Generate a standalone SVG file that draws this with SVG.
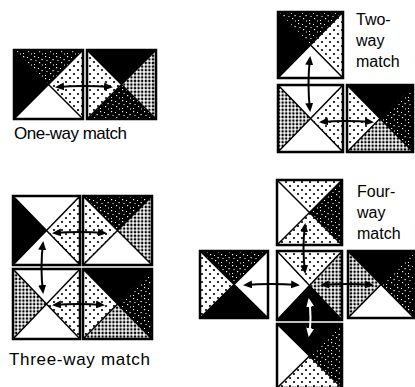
<svg xmlns="http://www.w3.org/2000/svg" width="415" height="387" viewBox="0 0 415 387">
<defs>
<pattern id="pLight" width="8" height="8" patternUnits="userSpaceOnUse"><rect width="8" height="8" fill="#fff"/><circle cx="2" cy="2" r="1.1" fill="#000"/><circle cx="6" cy="6" r="1.1" fill="#000"/></pattern>
<pattern id="pMed" width="3.6" height="3.6" patternUnits="userSpaceOnUse"><rect width="3.6" height="3.6" fill="#fff"/><circle cx="1.8" cy="1.8" r="1.3" fill="#000"/></pattern>
<pattern id="pDark" width="11" height="11" patternUnits="userSpaceOnUse"><rect width="11" height="11" fill="#000"/><rect x="1" y="1" width="1.2" height="1.2" fill="#fff"/><rect x="5" y="2" width="1" height="1" fill="#fff"/><rect x="8.5" y="4" width="1.2" height="1.2" fill="#fff"/><rect x="2.5" y="5" width="1" height="1" fill="#fff"/><rect x="6" y="7" width="1.2" height="1.2" fill="#fff"/><rect x="1" y="9" width="1" height="1" fill="#fff"/><rect x="9" y="9.5" width="1" height="1" fill="#fff"/></pattern>
<marker id="ah" viewBox="0 0 9 8" refX="7" refY="4" markerWidth="9" markerHeight="8" markerUnits="userSpaceOnUse" orient="auto-start-reverse"><path d="M0,0 L9,4 L0,8 z" fill="#000"/></marker>
<marker id="ahw" viewBox="0 0 9 8" refX="7" refY="4" markerWidth="9" markerHeight="8" markerUnits="userSpaceOnUse" orient="auto-start-reverse"><path d="M0,0 L9,4 L0,8 z" fill="#fff"/></marker>
</defs>
<style>
.w{fill:#fff}.k{fill:#000}.l{fill:url(#pLight)}.m{fill:url(#pMed)}.d{fill:url(#pDark)}
.b{fill:none;stroke:#000;stroke-width:2.5}
.g{fill:none;stroke:#000;stroke-width:1.5}
.a{fill:none;stroke:#000;stroke-width:2;marker-start:url(#ah);marker-end:url(#ah)}
.aw{fill:none;stroke:#fff;stroke-width:2;marker-start:url(#ahw);marker-end:url(#ahw)}
text{font-family:"Liberation Sans",Arial,Helvetica,sans-serif;font-size:16px;fill:#000}
.big{font-size:17px}
</style>
<rect width="415" height="387" fill="#fff"/>

<!-- One-way -->
<g id="A1"><polygon class="d" points="14,50 83,50 48.5,84.5"/><polygon class="l" points="83,50 83,119 48.5,84.5"/><polygon class="w" points="83,119 14,119 48.5,84.5"/><polygon class="k" points="14,119 14,50 48.5,84.5"/><path class="g" d="M14,50 L83,119 M83,50 L14,119"/><rect class="b" x="14" y="50" width="69" height="69"/></g>
<g id="A2"><polygon class="k" points="87,50 156,50 121.5,84.5"/><polygon class="m" points="156,50 156,119 121.5,84.5"/><polygon class="d" points="156,119 87,119 121.5,84.5"/><polygon class="l" points="87,119 87,50 121.5,84.5"/><path class="g" d="M87,50 L156,119 M156,50 L87,119"/><rect class="b" x="87" y="50" width="69" height="69"/></g>
<text id="lblOne" class="big" x="14" y="139" textLength="113" lengthAdjust="spacing">One-way match</text>

<!-- Two-way -->
<g id="B1"><polygon class="d" points="278,12 343,12 310.5,45"/><polygon class="l" points="343,12 343,78 310.5,45"/><polygon class="w" points="343,78 278,78 310.5,45"/><polygon class="k" points="278,78 278,12 310.5,45"/><path class="g" d="M278,12 L343,78 M343,12 L278,78"/><rect class="b" x="278" y="12" width="65" height="66"/></g>
<g id="B2"><polygon class="w" points="278,85 343,85 310.5,118.5"/><polygon class="l" points="343,85 343,152 310.5,118.5"/><polygon class="w" points="343,152 278,152 310.5,118.5"/><polygon class="m" points="278,152 278,85 310.5,118.5"/><path class="g" d="M278,85 L343,152 M343,85 L278,152"/><rect class="b" x="278" y="85" width="65" height="67"/></g>
<g id="B3"><polygon class="k" points="347,85 413,85 380,118.5"/><polygon class="d" points="413,85 413,152 380,118.5"/><polygon class="m" points="413,152 347,152 380,118.5"/><polygon class="l" points="347,152 347,85 380,118.5"/><path class="g" d="M347,85 L413,152 M413,85 L347,152"/><rect class="b" x="347" y="85" width="66" height="67"/></g>
<text id="lblTwo"><tspan x="356" y="25">Two-</tspan><tspan x="356" y="46">way</tspan><tspan x="356" y="67">match</tspan></text>

<!-- Three-way -->
<g id="C1"><polygon class="w" points="13,196 80,196 46.5,230.5"/><polygon class="l" points="80,196 80,265 46.5,230.5"/><polygon class="w" points="80,265 13,265 46.5,230.5"/><polygon class="k" points="13,265 13,196 46.5,230.5"/><path class="g" d="M13,196 L80,265 M80,196 L13,265"/><rect class="b" x="13" y="196" width="67" height="69"/></g>
<g id="C2"><polygon class="d" points="83,196 152,196 117.5,230.5"/><polygon class="m" points="152,196 152,265 117.5,230.5"/><polygon class="w" points="152,265 83,265 117.5,230.5"/><polygon class="l" points="83,265 83,196 117.5,230.5"/><path class="g" d="M83,196 L152,265 M152,196 L83,265"/><rect class="b" x="83" y="196" width="69" height="69"/></g>
<g id="C3"><polygon class="w" points="13,269 80,269 46.5,304"/><polygon class="l" points="80,269 80,339 46.5,304"/><polygon class="w" points="80,339 13,339 46.5,304"/><polygon class="m" points="13,339 13,269 46.5,304"/><path class="g" d="M13,269 L80,339 M80,269 L13,339"/><rect class="b" x="13" y="269" width="67" height="70"/></g>
<g id="C4"><polygon class="k" points="83,269 152,269 117.5,304"/><polygon class="d" points="152,269 152,339 117.5,304"/><polygon class="m" points="152,339 83,339 117.5,304"/><polygon class="l" points="83,339 83,269 117.5,304"/><path class="g" d="M83,269 L152,339 M152,269 L83,339"/><rect class="b" x="83" y="269" width="69" height="70"/></g>
<text id="lblThree" class="big" x="9" y="365" textLength="141" lengthAdjust="spacing">Three-way match</text>

<!-- Four-way -->
<g id="D1"><polygon class="l" points="277,180 342,180 309.5,212.5"/><polygon class="d" points="342,180 342,245 309.5,212.5"/><polygon class="l" points="342,245 277,245 309.5,212.5"/><polygon class="w" points="277,245 277,180 309.5,212.5"/><path class="g" d="M277,180 L342,245 M342,180 L277,245"/><rect class="b" x="277" y="180" width="65" height="65"/></g>
<g id="D2"><polygon class="d" points="200,251 268,251 234,284.5"/><polygon class="w" points="268,251 268,318 234,284.5"/><polygon class="k" points="268,318 200,318 234,284.5"/><polygon class="l" points="200,318 200,251 234,284.5"/><path class="g" d="M200,251 L268,318 M268,251 L200,318"/><rect class="b" x="200" y="251" width="68" height="67"/></g>
<g id="D3"><polygon class="l" points="277,251 342,251 309.5,285.5"/><polygon class="m" points="342,251 342,320 309.5,285.5"/><polygon class="k" points="342,320 277,320 309.5,285.5"/><polygon class="w" points="277,320 277,251 309.5,285.5"/><path class="g" d="M277,251 L342,320 M342,251 L277,320"/><rect class="b" x="277" y="251" width="65" height="69"/></g>
<g id="D4"><polygon class="k" points="348,251 414,251 381,284.5"/><polygon class="d" points="414,251 414,318 381,284.5"/><polygon class="w" points="414,318 348,318 381,284.5"/><polygon class="m" points="348,318 348,251 381,284.5"/><path class="g" d="M348,251 L414,318 M414,251 L348,318"/><rect class="b" x="348" y="251" width="66" height="67"/></g>
<g id="D5"><polygon class="k" points="277,324 342,324 309.5,356"/><polygon class="d" points="342,324 342,388 309.5,356"/><polygon class="l" points="342,388 277,388 309.5,356"/><polygon class="w" points="277,388 277,324 309.5,356"/><path class="g" d="M277,324 L342,388 M342,324 L277,388"/><rect class="b" x="277" y="324" width="65" height="64"/></g>
<text id="lblFour"><tspan x="357" y="197">Four-</tspan><tspan x="357" y="218">way</tspan><tspan x="357" y="239">match</tspan></text>

<g id="connectors">
<path class="a" d="M57,87 Q84,85 111,87"/>
<path class="a" d="M310,58 Q307,84 310,110"/>
<path class="a" d="M321,122 Q346,120 372,122"/>
<path class="a" d="M54,233 Q80,231 105,233"/>
<path class="a" d="M43,243 Q40,268 43,292"/>
<path class="a" d="M54,305 Q78,303 103,305"/>
<path class="a" d="M305,225 Q302,248 305,272"/>
<path class="a" d="M245,285 Q271,283 298,285"/>
<path class="a" d="M322,285 Q347,283 372,285"/>
<path class="aw" d="M309,300 Q312,318 309,335"/>
</g>
</svg>
